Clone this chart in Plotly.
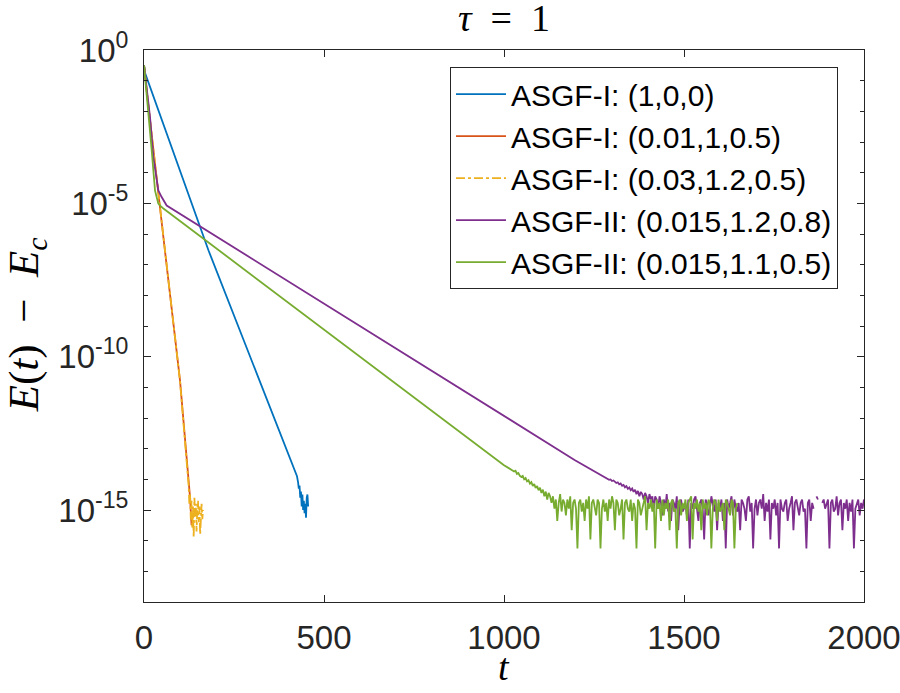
import plotly.graph_objects as go

# ---------------- data ----------------
names = ["ASGF-I: (1,0,0)", "ASGF-I: (0.01,1,0.5)", "ASGF-I: (0.03,1.2,0.5)",
         "ASGF-II: (0.015,1.2,0.8)", "ASGF-II: (0.015,1.1,0.5)"]
colors = ["#0072BD", "#D95319", "#EDB120", "#7E2F8E", "#77AC30"]

blue_t = [0, 3, 179, 425, 428, 430, 432, 434, 436, 438, 440, 442, 444, 446, 448, 450, 452, 454, 456]
blue_v = [0.32, 0.178, 2.95e-7, 1.26e-14, 7.9e-15, 5.0e-15, 6.3e-15, 2.5e-15, 4.0e-15, 1.3e-15,
          3.2e-15, 1.0e-15, 2.0e-15, 7.9e-16, 1.6e-15, 5.6e-16, 2.5e-15, 3.2e-15, 1.3e-15]

red_t = [0, 10, 58, 100, 128, 130, 132, 134]
red_v = [0.32, 0.025, 2.95e-7, 1.7e-11, 2.5e-15, 1.0e-15, 3.2e-16, 6.3e-16]

yellow_t = [0, 10, 58, 100, 124, 126, 128, 130, 132, 134, 136, 138, 140, 142, 144, 146, 148,
            150, 152, 154, 156, 158, 160, 162, 164]
yellow_v = [0.32, 0.025, 3.2e-7, 1.6e-11, 6.3e-15, 1.6e-15, 3.2e-15, 5.0e-16, 2.0e-15, 2.5e-16,
            1.3e-15, 1.3e-16, 2.5e-15, 6.3e-16, 1.6e-15, 2.0e-16, 1.0e-15, 2.0e-15, 4.0e-16,
            1.3e-15, 1.6e-16, 7.9e-16, 1.6e-15, 5.0e-16, 1.0e-15]

purple_head_t = [0, 16.7, 26, 40, 49, 63, 1196, 1240, 1280]
purple_head_v = [0.32, 6.5e-3, 3.2e-4, 2.6e-5, 1.6e-5, 8.5e-6, 4.3e-14, 2.2e-14, 1.2e-14]
purple_tail_start = 1284
purple_tail_step = 4
purple_tail_v = [
    1.1e-14, 1.0e-14, 9.6e-15, 9.9e-15, 8.8e-15, 9.2e-15, 8.1e-15, 7.6e-15, 8.0e-15, 6.9e-15,
    7.3e-15, 6.2e-15, 6.6e-15, 5.5e-15, 6.0e-15, 4.9e-15, 5.4e-15, 4.4e-15, 5.0e-15, 3.9e-15,
    4.6e-15, 3.3e-15, 4.2e-15, 2.8e-15, 3.9e-15, 3.3e-15, 2.2e-15, 3.6e-15, 2.8e-15, 1.7e-15,
    3.3e-15, 2.2e-15, 2.8e-15, 1.1e-15, 2.8e-15,
    2.2e-15, 1.1e-15, 2.8e-15, 1.7e-15, 6.7e-16, 2.2e-15, 1.1e-15, 3.3e-15, 8.9e-16, 1.7e-15,
    4.4e-16, 2.2e-15, 1.7e-15, 1.1e-15, 2.8e-15, 2.2e-16, 1.7e-15, 2.2e-15, 8.9e-16, 1.1e-15,
    1.7e-15, 6.7e-16, 2.2e-15, 5.6e-17, 1.7e-15, 1.1e-15, 2.2e-15, 2.8e-15, 8.9e-16, 4.4e-16,
    1.7e-15, 2.2e-15, 1.1e-15, 1.1e-16, 2.2e-15, 1.7e-15, 6.7e-16, 1.1e-15, 2.8e-15, 1.7e-15,
    8.9e-16, 2.2e-15, 2.2e-16, 1.7e-15, 1.1e-15, 2.2e-15, 4.4e-16, 1.7e-15, 5.6e-17, 2.2e-15,
    1.1e-15, 1.7e-15, 2.8e-15, 6.7e-16, 2.2e-15, 1.1e-15, 8.9e-16, 1.7e-15, 2.2e-16, 2.2e-15,
    1.7e-15, 1.1e-15, 4.4e-16, 2.2e-15, 2.8e-15, 8.9e-16, 1.7e-15, 5.6e-17, 1.1e-15, 2.2e-15,
    6.7e-16, 1.7e-15, 2.2e-15, 1.1e-15, 3.3e-15, 4.4e-16, 1.7e-15, 8.9e-16, 2.2e-15, 1.1e-16,
    1.7e-15, 1.1e-15, 2.2e-15, 6.7e-16, 1.7e-15, 5.6e-17, 2.2e-15, 1.1e-15, 8.9e-16, 1.7e-15,
    2.2e-15, 4.4e-16, 1.1e-15, 1.7e-15, 2.8e-15, 2.2e-16, 1.7e-15, 2.2e-15, 1.1e-15, 6.7e-16,
    1.7e-15, 2.2e-15, 8.9e-16, 1.1e-15, 5.6e-17, 1.7e-15, 2.2e-15, 4.4e-16, 1.7e-15, 1.1e-15,
    None, 2.8e-15, 2.2e-15, None, None, 1.7e-15, 2.2e-15, 1.1e-15, 1.7e-15, 2.2e-15,
    5.6e-17, 1.7e-15, 2.2e-15, 8.9e-16, 1.1e-15, 2.8e-15, 6.7e-16, 1.7e-15, 2.2e-15, 2.2e-16,
    1.7e-15, 1.1e-15, 2.2e-15, 4.4e-16, 1.7e-15, 8.9e-16, 2.2e-15, 5.6e-17, 1.1e-15, 1.7e-15,
    2.2e-15, 6.7e-16, 1.7e-15, 1.1e-15, 2.2e-15,
]

green_head_t = [0, 12, 21.4, 30.6, 39.8, 47, 53.8]
green_head_v = [0.32, 1.07e-2, 5.4e-4, 2.6e-5, 9.8e-6, 7.9e-6, 6.8e-6]
green_tail_start = 1000
green_tail_step = 4
green_tail_v = [
    2.9e-14, 2.7e-14, 2.6e-14, 2.4e-14, 2.3e-14, 2.1e-14, 2.0e-14, 1.8e-14, 1.9e-14, 1.5e-14,
    1.6e-14, 1.3e-14, 1.2e-14, 1.3e-14, 1.0e-14, 1.1e-14, 8.6e-15, 9.4e-15, 7.2e-15, 8.1e-15,
    6.1e-15, 7.0e-15, 5.2e-15, 6.0e-15, 4.4e-15, 5.3e-15, 3.6e-15, 4.6e-15, 2.8e-15, 4.0e-15,
    2.2e-15, 3.6e-15, 2.8e-15,
    1.7e-15, 2.8e-15, 1.1e-15, 2.2e-15, 4.4e-16, 1.7e-15, 3.3e-15, 8.9e-16, 2.2e-15, 1.7e-15,
    6.7e-16, 2.2e-15, 1.1e-15, 2.8e-15, 2.2e-16, 1.7e-15, 2.2e-15, 1.1e-15, 5.6e-17, 1.7e-15,
    2.2e-15, 8.9e-16, 1.7e-15, 4.4e-16, 2.2e-15, 1.1e-15, 2.8e-15, 1.1e-16, 1.7e-15, 2.2e-15,
    1.1e-15, 6.7e-16, 2.2e-15, 1.7e-15, 5.6e-17, 1.1e-15, 2.2e-15, 8.9e-16, 1.7e-15, 4.4e-16,
    2.2e-15, 1.1e-15, 2.8e-15, 1.7e-15, 2.2e-16, 2.2e-15, 1.7e-15, 6.7e-16, 1.1e-15, 2.2e-15,
    1.1e-16, 1.7e-15, 2.2e-15, 1.1e-15, 8.9e-16, 2.2e-15, 4.4e-16, 1.7e-15, 1.1e-15, 5.6e-17,
    2.2e-15, 1.7e-15, 6.7e-16, 1.1e-15, 2.2e-15, 2.8e-15, 2.2e-16, 1.7e-15, 1.1e-15, 2.2e-15,
    8.9e-16, 1.7e-15, 5.6e-17, 2.2e-15, 1.1e-15, 1.7e-15, 4.4e-16, 2.2e-15, 6.7e-16, 1.7e-15,
    1.1e-15, 2.2e-15, 2.2e-16, 1.7e-15, 2.2e-15, 8.9e-16, 1.1e-15, 5.6e-17, 1.7e-15, 2.2e-15,
    6.7e-16, 1.7e-15, 1.1e-15, 2.2e-15, 4.4e-16, 1.7e-15, 2.2e-15, 2.8e-15, 1.1e-16, 1.7e-15,
    1.1e-15, 2.2e-15, 8.9e-16, 1.7e-15, 2.2e-16, 2.2e-15, 1.1e-15, 1.7e-15, 6.7e-16, 2.2e-15,
    1.7e-15, 5.6e-17, 1.1e-15, 2.2e-15, 1.7e-15, 4.4e-16, 2.2e-15, 8.9e-16, 1.1e-15, 1.7e-15,
    2.2e-16, 2.2e-15, 1.7e-15, 1.1e-15, 6.7e-16, 2.2e-15, 1.7e-15, 5.6e-17, 1.1e-15, 1.7e-15,
]

x_ticks = [0, 500, 1000, 1500, 2000]
y_major = [1, 1e-5, 1e-10, 1e-15]
y_major_text = ["10<sup>0</sup>", "10<sup>-5</sup>", "10<sup>-10</sup>", "10<sup>-15</sup>"]
y_minor = [1e-1, 1e-2, 1e-3, 1e-4, 1e-6, 1e-7, 1e-8, 1e-9, 1e-11, 1e-12, 1e-13, 1e-14,
           1e-16, 1e-17]

# ---------------- build series ----------------
purple_t = purple_head_t + [purple_tail_start + purple_tail_step * i for i in range(len(purple_tail_v))]
purple_v = purple_head_v + purple_tail_v
green_t = green_head_t + [green_tail_start + green_tail_step * i for i in range(len(green_tail_v))]
green_v = green_head_v + green_tail_v

series = [(blue_t, blue_v, "solid"), (red_t, red_v, "solid"), (yellow_t, yellow_v, "dashdot"),
          (purple_t, purple_v, "solid"), (green_t, green_v, "solid")]

fig = go.Figure()
for (tt, vv, dash), nm, col in zip(series, names, colors):
    fig.add_trace(go.Scatter(x=tt, y=vv, mode="lines", name=nm,
                             line=dict(color=col, width=1.8, dash=dash)))

axcol = "#262626"
tickfont = dict(family="Liberation Sans, Arial, sans-serif", size=33, color=axcol)
serif = "Liberation Serif, Times New Roman, serif"
sp = "\u2002"

fig.update_layout(
    width=900, height=693,
    margin=dict(l=144, r=36, t=50, b=91, autoexpand=False),
    paper_bgcolor="white", plot_bgcolor="white",
    showlegend=True,
    legend=dict(x=0.425, y=0.969, xanchor="left", yanchor="top",
                bgcolor="white", bordercolor=axcol, borderwidth=1,
                font=dict(family="Liberation Sans, Arial, sans-serif", size=30, color="black"),
                itemwidth=50, tracegroupgap=0),
    xaxis=dict(range=[0, 2000], tickvals=x_ticks, ticks="inside", ticklen=7,
               tickcolor=axcol, showline=True, linecolor=axcol, linewidth=1, mirror="ticks",
               showgrid=False, zeroline=False, tickfont=tickfont, ticklabelstandoff=6,
               ticklabeloverflow="allow", automargin=False),
    yaxis=dict(type="log", range=[-18, 0], tickvals=y_major, ticktext=y_major_text,
               ticks="inside", ticklen=7, tickcolor=axcol, showline=True, linecolor=axcol,
               linewidth=1, mirror="ticks", showgrid=False, zeroline=False, tickfont=tickfont,
               ticklabelstandoff=8, ticklabeloverflow="allow", automargin=False,
               minor=dict(tickvals=y_minor, ticks="inside", ticklen=4, tickcolor=axcol)),
    annotations=[
        dict(text="<i>τ</i>" + sp + "=" + sp + "1", xref="paper", yref="paper", x=0.5, y=1.058,
             yanchor="middle", showarrow=False,
             font=dict(family=serif, size=38, color="black")),
        dict(text="<i>t</i>", xref="paper", yref="paper", x=0.5, y=-0.118,
             yanchor="middle", showarrow=False,
             font=dict(family=serif, size=38, color="black")),
        dict(text="<i>E</i>(<i>t</i>)" + sp + "−" + sp + "<i>E</i><sub><i>c</i></sub>",
             xref="paper", yref="paper",
             x=-0.162, y=0.502, xanchor="center", yanchor="middle", textangle=-90,
             showarrow=False, font=dict(family=serif, size=43, color="black")),
    ],
)

fig.write_html("out.html", config={"displayModeBar": False},
               post_script="document.body.style.margin='0px';")
